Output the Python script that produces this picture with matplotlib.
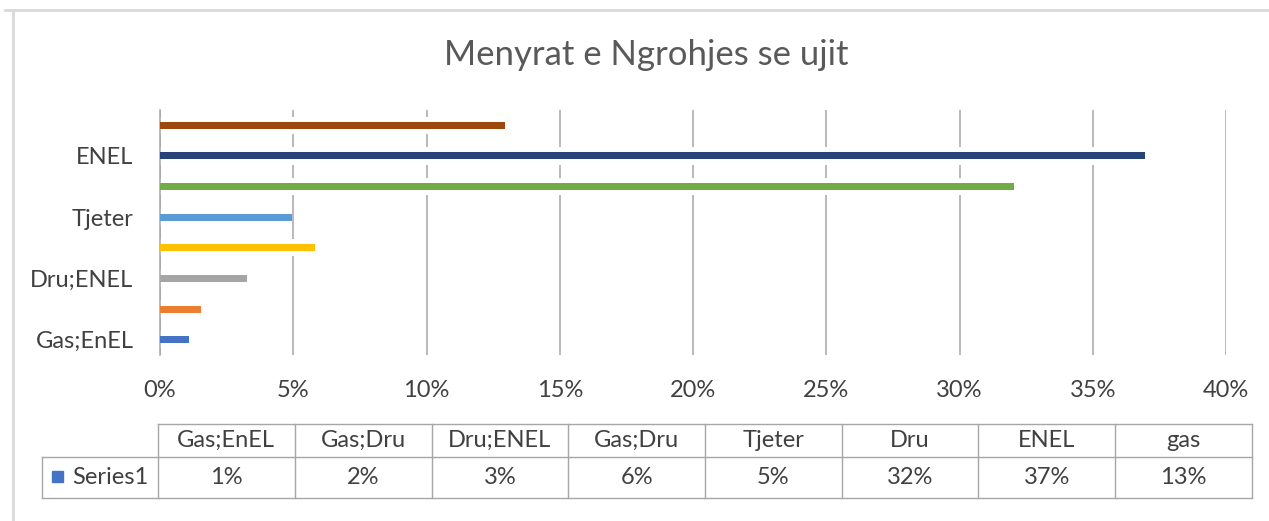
import matplotlib.pyplot as plt
from matplotlib.lines import Line2D
from matplotlib.patches import Rectangle

# Data (percent)
categories = ['Gas;EnEL', 'Gas;Dru', 'Dru;ENEL', 'Gas;Dru', 'Tjeter', 'Dru', 'ENEL', 'gas']
values = [1.1, 1.55, 3.25, 5.8, 4.95, 32.05, 36.95, 12.95]
table_labels = ['1%', '2%', '3%', '6%', '5%', '32%', '37%', '13%']
bar_colors = ['#4472C4', '#ED7D31', '#A5A5A5', '#FFC000',
              '#5B9BD5', '#70AD47', '#264478', '#9E480E']
x_ticks = [0, 5, 10, 15, 20, 25, 30, 35, 40]

plt.rcParams['font.family'] = ['Lato', 'DejaVu Sans']

W, H = 1269, 521
fig = plt.figure(figsize=(W / 100, H / 100), dpi=100)

def fx(px):
    return px / W

def fy(py):
    return 1 - py / H

# plot area in pixels: x 160..1226, y 110..355
ax = fig.add_axes([fx(160), fy(355), fx(1226) - fx(160), fy(110) - fy(355)])

ypos = list(range(len(categories)))
# white underlay to break gridlines around bars, like the original
ax.barh(ypos, values, height=0.56, color='white', zorder=2)
ax.barh(ypos, values, height=0.23, color=bar_colors, zorder=3)

fs = 17
ax.set_xlim(0, 40)
ax.set_ylim(-0.5, len(categories) - 0.5)
ax.set_xticks(x_ticks)
ax.set_xticklabels([f'{t}%' for t in x_ticks], fontsize=fs, color='#404040')
ax.set_yticks(ypos[::2])
ax.set_yticklabels(categories[::2], fontsize=fs, color='#404040')
ax.tick_params(length=0, pad=19, axis='y')
ax.tick_params(length=0, pad=18, axis='x')
ax.xaxis.grid(True, color='#a6a6a6', linewidth=1.1, zorder=1)
ax.set_axisbelow(True)
for s in ['top', 'right', 'bottom']:
    ax.spines[s].set_visible(False)
ax.spines['left'].set_color('#a6a6a6')
ax.spines['left'].set_linewidth(1.1)

# title
fig.text(fx(646), fy(55), 'Menyrat e Ngrohjes se ujit', ha='center', va='center',
         fontsize=25, color='#595959')

# outer chart border (top and left visible)
fig.add_artist(Line2D([fx(5), 1], [fy(10), fy(10)], color='#d9d9d9', linewidth=2))
fig.add_artist(Line2D([fx(13), fx(13)], [fy(10), 0], color='#d9d9d9', linewidth=2))

# data table
col_left = 158
col_w = (1252 - 158) / len(categories)
top, mid, bot = 424, 457, 498
lc = '#a6a6a6'
lw = 1.0
# horizontal lines
fig.add_artist(Line2D([fx(col_left), fx(1252)], [fy(top), fy(top)], color=lc, linewidth=lw))
fig.add_artist(Line2D([fx(42), fx(1252)], [fy(mid), fy(mid)], color=lc, linewidth=lw))
fig.add_artist(Line2D([fx(42), fx(1252)], [fy(bot), fy(bot)], color=lc, linewidth=lw))
fig.add_artist(Line2D([fx(42), fx(42)], [fy(mid), fy(bot)], color=lc, linewidth=lw))
for i in range(len(categories) + 1):
    x = col_left + i * col_w
    fig.add_artist(Line2D([fx(x), fx(x)], [fy(top), fy(bot)], color=lc, linewidth=lw))
for i, (cat, lab) in enumerate(zip(categories, table_labels)):
    cx = col_left + (i + 0.5) * col_w
    fig.text(fx(cx), fy((top + mid) / 2), cat, ha='center', va='center',
             fontsize=fs, color='#404040')
    fig.text(fx(cx), fy((mid + bot) / 2), lab, ha='center', va='center',
             fontsize=fs, color='#404040')

# legend key in table
fig.add_artist(Rectangle((fx(52), fy(482)), fx(11), fy(471) - fy(482),
                         color='#4472C4', transform=fig.transFigure))
fig.text(fx(72), fy((mid + bot) / 2), 'Series1', ha='left', va='center',
         fontsize=fs, color='#404040')

fig.savefig('out.png', dpi=100, facecolor='white')
